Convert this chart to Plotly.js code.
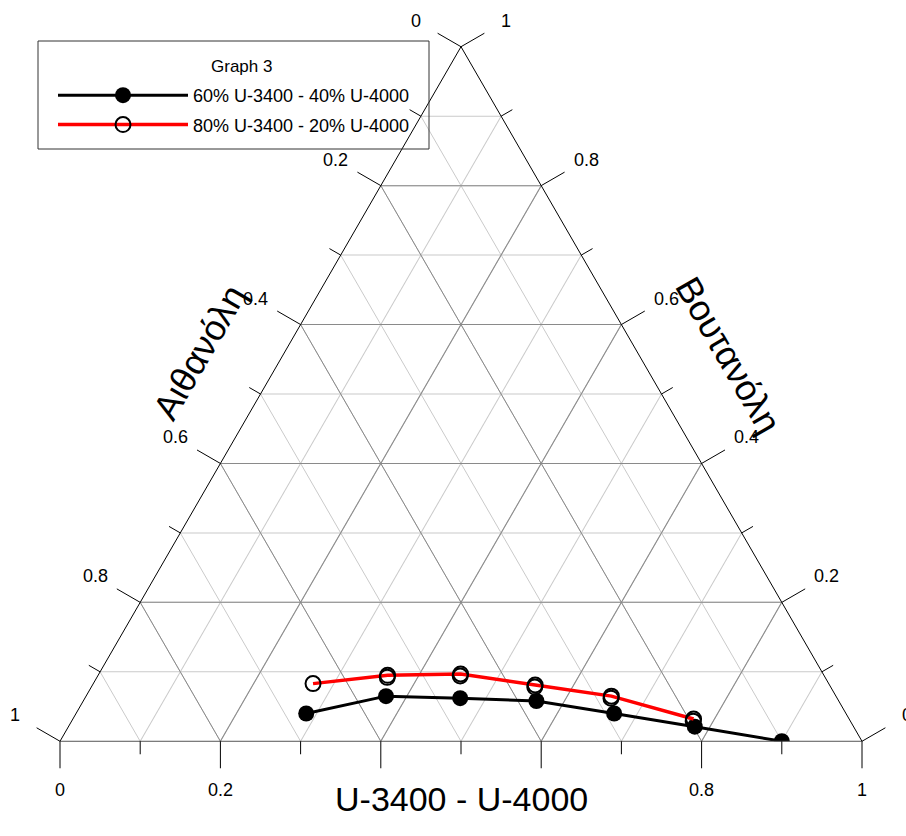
<!DOCTYPE html>
<html>
<head>
<meta charset="utf-8">
<script src="https://cdn.plot.ly/plotly-3.0.1.min.js"></script>
<style>
  html, body { margin: 0; padding: 0; background: #fff; }
  #chart { width: 906px; height: 836px; }
</style>
</head>
<body>
<div id="chart"></div>
<script>
// Ternary composition data: a = Βουτανόλη (top), b = Αιθανόλη (bottom-left), c = U-3400 - U-4000 (bottom-right)
const seriesNames = ['60% U-3400 - 40% U-4000', '80% U-3400 - 20% U-4000'];

// 60% U-3400 - 40% U-4000
const butanol60 = [0.040, 0.065, 0.062, 0.058, 0.040, 0.021, 0.000];
const ethanol60 = [0.673, 0.561, 0.470, 0.377, 0.289, 0.198, 0.100];
const blend60   = [0.287, 0.374, 0.468, 0.565, 0.671, 0.781, 0.900];

// 80% U-3400 - 20% U-4000
const butanol80 = [0.083, 0.095, 0.097, 0.081, 0.065, 0.032];
const ethanol80 = [0.643, 0.544, 0.452, 0.367, 0.280, 0.194];
const blend80   = [0.274, 0.361, 0.451, 0.552, 0.655, 0.774];

// repeat measurements of the 80/20 blend
const butanol80r = [0.092, 0.094, 0.078, 0.062, 0.029];
const ethanol80r = [0.546, 0.454, 0.369, 0.282, 0.196];
const blend80r   = [0.362, 0.452, 0.553, 0.656, 0.775];

// tick values and labels (every edge reads 0 → 1 counter-clockwise)
const majorTicks = [0, 0.2, 0.4, 0.6, 0.8, 1];
const majorTickLabels = ['0', '0.2', '0.4', '0.6', '0.8', '1'];
// the bottom edge leaves room for its title under the middle ticks
const bottomTickLabels = ['0', '0.2', '', '', '0.8', '1'];
const minorTicks = [0.1, 0.3, 0.5, 0.7, 0.9];
const allGridTicks = [0.1, 0.2, 0.3, 0.4, 0.5, 0.6, 0.7, 0.8, 0.9];

const legendTitle = 'Graph 3';
const titleBlend = 'U-3400 - U-4000';
const titleEthanol = 'Αιθανόλη';
const titleButanol = 'Βουτανόλη';

const FONT = 'Liberation Sans, Arial, Helvetica, sans-serif';

// page geometry
const W = 906, HGT = 836;
const M = { l: 60, r: 44, t: 46, b: 94 };
const plotW = W - M.l - M.r, plotH = HGT - M.t - M.b;
// the ternary triangle fills the plot width and is centred vertically
const triW = plotW, triH = triW * Math.sqrt(3) / 2;
const triBottom = M.t + (plotH + triH) / 2;
const toPaperX = px => (px - M.l) / plotW;
const toPaperY = py => (HGT - M.b - py) / plotH;

// a point on an edge at fraction v, and the outward normal of that edge
function edgePoint(edge, v) {
  if (edge === 'left')   return { x: M.l + triW / 2 * v, y: triBottom - triH * v, nx: -Math.sqrt(3) / 2, ny: -0.5 };
  if (edge === 'right')  return { x: M.l + triW - triW / 2 * v, y: triBottom - triH * v, nx: Math.sqrt(3) / 2, ny: -0.5 };
  return { x: M.l + triW * v, y: triBottom, nx: 0, ny: 1 };
}

const shapes = [];
const annotations = [];

function addTick(edge, v, len) {
  const p = edgePoint(edge, v);
  shapes.push({
    type: 'line', xref: 'paper', yref: 'paper', layer: 'above',
    x0: toPaperX(p.x), y0: toPaperY(p.y),
    x1: toPaperX(p.x + p.nx * len), y1: toPaperY(p.y + p.ny * len),
    line: { color: '#000000', width: 1 }
  });
}
function addTickLabel(edge, v, text, dist) {
  if (!text) return;
  const p = edgePoint(edge, v);
  annotations.push({
    text: text, xref: 'paper', yref: 'paper',
    x: toPaperX(p.x + p.nx * dist), y: toPaperY(p.y + p.ny * dist),
    xanchor: 'center', yanchor: 'middle', showarrow: false,
    font: { family: FONT, size: 18, color: '#000000' }
  });
}

// left edge: Αιθανόλη, 0 at the top vertex, 1 at the bottom-left vertex
// right edge: Βουτανόλη, 0 at the bottom-right vertex, 1 at the top vertex
// bottom edge: U-3400 - U-4000, 0 at the left, 1 at the right
majorTicks.forEach((t, i) => {
  addTick('left', 1 - t, 27);  addTickLabel('left', 1 - t, majorTickLabels[i], 52);
  addTick('right', t, 27);     addTickLabel('right', t, majorTickLabels[i], 52);
  addTick('bottom', t, 27);    addTickLabel('bottom', t, bottomTickLabels[i], 49);
});
minorTicks.forEach(t => {
  addTick('left', 1 - t, 13);
  addTick('right', t, 13);
  addTick('bottom', t, 13);
});

// legend frame and heading
shapes.push({
  type: 'rect', xref: 'paper', yref: 'paper', layer: 'above',
  x0: toPaperX(38), x1: toPaperX(429), y0: toPaperY(149), y1: toPaperY(41),
  line: { color: '#333333', width: 1 }, fillcolor: 'rgba(0,0,0,0)'
});
annotations.push({
  text: legendTitle, xref: 'paper', yref: 'paper',
  x: toPaperX(241), y: toPaperY(66), xanchor: 'center', yanchor: 'middle',
  showarrow: false, font: { family: FONT, size: 17, color: '#000000' }
});

// axis titles
annotations.push(
  { text: titleBlend, xref: 'paper', yref: 'paper', x: toPaperX(461), y: toPaperY(799),
    xanchor: 'center', yanchor: 'middle', showarrow: false, font: { family: FONT, size: 34 } },
  { text: titleEthanol, xref: 'paper', yref: 'paper', x: toPaperX(199), y: toPaperY(352),
    xanchor: 'center', yanchor: 'middle', textangle: -60, showarrow: false, font: { family: FONT, size: 36 } },
  { text: titleButanol, xref: 'paper', yref: 'paper', x: toPaperX(729), y: toPaperY(355),
    xanchor: 'center', yanchor: 'middle', textangle: 60, showarrow: false, font: { family: FONT, size: 36 } }
);

const traces = [
  // carries the fine 0.1 grid underneath
  { type: 'scatterternary', subplot: 'ternary', a: [], b: [], c: [], showlegend: false, hoverinfo: 'skip' },
  {
    type: 'scatterternary', mode: 'lines+markers', subplot: 'ternary2',
    name: seriesNames[0], legendgroup: 'g1',
    a: butanol60, b: ethanol60, c: blend60,
    line: { color: '#000000', width: 3 },
    marker: { color: '#000000', size: 16 }
  },
  {
    type: 'scatterternary', mode: 'lines+markers', subplot: 'ternary2',
    name: seriesNames[1], legendgroup: 'g2',
    a: butanol80, b: ethanol80, c: blend80,
    line: { color: '#ff0000', width: 3.5 },
    marker: { symbol: 'circle-open', color: '#000000', size: 15, line: { width: 2 } }
  },
  {
    type: 'scatterternary', mode: 'markers', subplot: 'ternary2',
    name: seriesNames[1], legendgroup: 'g2', showlegend: false,
    a: butanol80r, b: ethanol80r, c: blend80r,
    marker: { symbol: 'circle-open', color: '#000000', size: 15, line: { width: 2 } }
  }
];

function fineAxis() {
  return {
    tickmode: 'array', tickvals: allGridTicks, ticks: '',
    showgrid: true, gridcolor: '#cacaca', gridwidth: 1,
    showline: false, showticklabels: false, title: { text: '' }
  };
}
function coarseAxis(lineColor) {
  return {
    tickmode: 'array', tickvals: majorTicks, ticks: '',
    showgrid: true, gridcolor: '#8a8a8a', gridwidth: 1,
    showline: true, linecolor: lineColor, linewidth: 1,
    showticklabels: false, title: { text: '' }
  };
}

const layout = {
  width: W, height: HGT,
  margin: M,
  paper_bgcolor: '#ffffff',
  font: { family: FONT, color: '#000000' },
  showlegend: true,
  ternary: {
    sum: 1, bgcolor: '#ffffff',
    domain: { x: [0, 1], y: [0, 1] },
    aaxis: fineAxis(), baxis: fineAxis(), caxis: fineAxis()
  },
  ternary2: {
    sum: 1, bgcolor: 'rgba(0,0,0,0)',
    domain: { x: [0, 1], y: [0, 1] },
    aaxis: coarseAxis('#000000'), baxis: coarseAxis('#555555'), caxis: coarseAxis('#000000')
  },
  legend: {
    x: toPaperX(53), y: toPaperY(77), xanchor: 'left', yanchor: 'top',
    bgcolor: 'rgba(0,0,0,0)', borderwidth: 0,
    font: { family: FONT, size: 18, color: '#000000' },
    itemwidth: 130, tracegroupgap: 3
  },
  shapes: shapes,
  annotations: annotations
};

Plotly.newPlot('chart', traces, layout, { staticPlot: true, displayModeBar: false });
</script>
</body>
</html>
